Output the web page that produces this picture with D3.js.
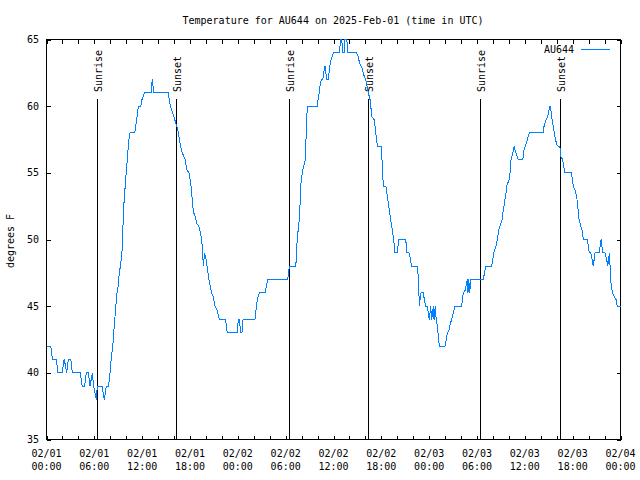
<!DOCTYPE html>
<html>
<head>
<meta charset="utf-8">
<script src="https://cdn.jsdelivr.net/npm/d3@7"></script>
<style>
  html, body { margin: 0; padding: 0; background: #fff; }
  svg { display: block; }
  text { font-family: "DejaVu Sans Mono", monospace; font-size: 10px; fill: #000; }
</style>
</head>
<body>
<svg id="chart" width="640" height="480"></svg>
<script>
// ---- data ----
const titleText = "Temperature for AU644 on 2025-Feb-01 (time in UTC)";
const seriesName = "AU644";
const yLabel = "degrees F";
const startTime = "2025-02-01T00:00:00Z";
const endTime = "2025-02-04T00:00:00Z";
const yTicks = [35, 40, 45, 50, 55, 60, 65];
// hours since 2025-02-01 00:00 UTC
const hours = [
  0, 0.53, 0.65, 0.73, 1.23, 1.32, 1.40, 1.98, 2.20, 2.32, 2.53, 2.73, 3.04, 3.16, 3.24,
  4.24, 4.39, 4.49, 4.79, 4.99, 5.24, 5.46, 5.75, 5.90, 6.08, 6.25, 6.37, 6.96, 7.25, 7.50,
  7.75, 7.88, 8.05, 8.13, 8.25, 8.34, 8.38, 8.50, 8.63, 8.76, 8.88, 9.01, 9.09, 9.26, 9.43,
  9.56, 9.63, 9.81, 9.93, 10.06, 10.14, 10.19, 10.26, 10.39, 10.47, 11.06, 11.31, 11.52, 11.82, 11.98,
  12.27, 13.11, 13.27, 13.45, 15.28, 15.40, 15.53, 15.83, 16.08, 16.24, 16.46, 16.75, 17.03, 17.41, 17.50,
  17.63, 17.88, 18.09, 18.21, 18.34, 18.47, 18.67, 18.84, 19.09, 19.26, 19.42, 19.54, 19.67, 19.84, 20.01,
  20.22, 20.35, 20.51, 20.72, 20.92, 21.14, 21.35, 21.48, 21.68, 22.39, 22.52, 22.68, 23.93, 24.06, 24.21,
  24.34, 24.52, 24.65, 26.15, 26.28, 26.44, 26.69, 27.41, 27.75, 30.26, 30.46, 31.26, 31.33, 31.46, 31.64,
  31.76, 31.89, 31.92, 32.09, 32.26, 32.46, 32.52, 32.64, 32.72, 33.97, 34.06, 34.22, 34.31, 34.47, 34.65,
  34.90, 35.00, 35.10, 35.35, 35.53, 35.69, 35.98, 36.73, 36.90, 37.03, 37.16, 37.32, 37.41, 37.66, 37.82,
  38.91, 39.11, 39.24, 39.61, 39.87, 40.04, 40.17, 40.33, 40.58, 40.67, 40.83, 41.08, 41.21, 41.30, 41.50,
  41.96, 42.08, 42.17, 42.25, 42.55, 42.67, 42.75, 42.88, 43.00, 43.13, 43.25, 43.38, 43.50, 43.63, 43.72,
  44.01, 44.18, 45.06, 45.22, 45.47, 45.69, 45.76, 46.51, 46.64, 46.73, 46.76, 46.89, 46.98, 47.27, 47.39,
  47.57, 47.73, 47.89, 48.02, 48.19, 48.32, 48.52, 48.61, 48.77, 48.86, 49.02, 49.20, 49.27, 49.99, 50.15,
  50.28, 50.49, 50.65, 50.83, 51.03, 51.24, 52.08, 52.28, 52.54, 52.62, 52.79, 52.87, 52.96, 53.09, 53.21,
  54.79, 55.09, 55.85, 56.10, 56.38, 56.55, 56.72, 56.89, 57.14, 57.30, 57.43, 57.64, 57.73, 58.02, 58.14,
  58.27, 58.48, 58.68, 58.77, 59.18, 59.74, 59.90, 60.06, 60.24, 60.36, 60.56, 62.32, 62.41, 62.66, 62.87,
  63.00, 63.16, 63.29, 63.41, 63.57, 63.79, 64.00, 64.20, 64.41, 64.50, 64.75, 64.95, 65.04, 65.83, 65.96,
  66.08, 66.30, 66.51, 66.63, 66.80, 67.01, 67.17, 67.34, 67.84, 67.96, 68.09, 68.27, 68.43, 68.59, 68.80,
  69.34, 69.56, 69.77, 70.06, 70.27, 70.40, 70.60, 70.81, 70.98, 71.23, 71.44, 71.60, 72.00
];
const tempF = [
  42, 42, 41.6, 41, 41, 40.6, 40, 40, 41, 40.7, 40, 41, 41, 40.5, 40,
  40, 39.3, 39, 39, 40, 40, 39, 40, 39, 38.5, 38, 39, 39, 38, 39,
  39, 39.4, 40.5, 41.2, 41.7, 42.2, 42.7, 43.5, 44.5, 45.5, 46.2, 46.5, 47.2, 48, 48.7,
  50, 52, 53.5, 54.5, 55.5, 56, 56.2, 57.2, 57.7, 58, 58, 59, 60, 60, 60.5,
  61, 61, 62, 61, 61, 60.5, 60, 59.5, 59, 58.7, 58.25, 57.2, 56.5, 56, 55.6,
  55.2, 55, 54.2, 53.5, 52.5, 52, 51.7, 51.2, 51, 50.6, 50.2, 49.5, 48, 49, 48.5,
  47.7, 47.1, 46.6, 46, 45.7, 45, 44.8, 44.5, 44, 44, 43.7, 43, 43, 44, 44,
  43, 43, 44, 44, 44.7, 45.5, 46, 46, 47, 47, 48, 48, 48.5, 50.2, 51,
  52.2, 53.5, 54.2, 55, 55.5, 56, 57, 59, 60, 60, 60.5, 61, 61.5, 62, 62,
  63, 63, 62, 62, 63, 63.5, 64, 64, 65, 65, 64, 64, 65, 65, 64,
  64, 63.7, 63.3, 62.8, 62.2, 62, 61.6, 61.1, 60.5, 60, 59.2, 59, 58.5, 58, 57,
  57, 56, 55, 54, 54, 53.7, 53.2, 52.7, 52.2, 51.7, 51.2, 50.7, 50.2, 49.5, 49,
  49, 50, 50, 49, 49, 48.5, 48, 48, 47.2, 45.7, 45, 45.7, 46, 46, 45.5,
  45, 45, 44.5, 44, 45, 44, 45, 44, 45, 44.2, 43.5, 42.5, 42, 42, 42.5,
  43, 43.2, 43.7, 44, 44.5, 45, 45, 46, 46.2, 46.5, 47, 46, 47, 46, 47,
  47, 48, 48, 49, 49.5, 50, 50.7, 51, 51.5, 52.2, 52.7, 53.5, 54, 54.5, 55,
  56, 56.5, 57, 56.7, 56, 56, 56.7, 57, 57.3, 57.6, 58, 58, 58.5, 59, 59.2,
  59.6, 60, 59.6, 59, 58.5, 57.7, 57.1, 57, 56.9, 56.2, 56, 55.2, 55, 55, 54.5,
  54, 53.7, 53.2, 52.5, 51.5, 51, 50.7, 50, 50, 49.5, 49, 49, 48.5, 48, 49,
  49, 50, 49, 49, 48.5, 48, 49, 46.75, 46, 45.7, 45.5, 45, 45
];
const sunEventHours = [6.37, 16.28, 30.46, 40.37, 54.41, 64.45];
const sunEventLabels = ["Sunrise", "Sunset", "Sunrise", "Sunset", "Sunrise", "Sunset"];

// ---- drawing ----
const svg = d3.select("#chart");
const L = 46.5, R = 620.5, T = 39.5, B = 439.5;
const t0 = new Date(startTime);
const toDate = h => new Date(t0.getTime() + h * 3600000);

const x = d3.scaleUtc().domain([new Date(startTime), new Date(endTime)]).range([L, R]);
const y = d3.scaleLinear().domain([35, 65]).range([B, T]);

const data = hours.map((h, i) => ({ t: toDate(h), v: tempF[i] }));

// x ticks every 2 hours, labels every 6 hours
const xTickVals = d3.utcHour.every(2).range(new Date(startTime), new Date(new Date(endTime).getTime() + 1));
const xLabelVals = d3.utcHour.every(6).range(new Date(startTime), new Date(new Date(endTime).getTime() + 1));

const axB = svg.append("g").attr("transform", `translate(0,${B})`)
  .call(d3.axisBottom(x).tickValues(xTickVals).tickSize(-4).tickFormat(""));
const axT = svg.append("g").attr("transform", `translate(0,${T})`)
  .call(d3.axisTop(x).tickValues(xTickVals).tickSize(-4).tickFormat(""));
const axL = svg.append("g").attr("transform", `translate(${L},0)`)
  .call(d3.axisLeft(y).tickValues(yTicks).tickSize(-4).tickFormat(""));
const axR = svg.append("g").attr("transform", `translate(${R},0)`)
  .call(d3.axisRight(y).tickValues(yTicks).tickSize(-4).tickFormat(""));
[axB, axT, axL, axR].forEach(g => {
  g.select(".domain").remove();
  g.selectAll("line").attr("stroke", "#000").attr("shape-rendering", "crispEdges");
});

// y tick labels
svg.append("g").selectAll("text").data(yTicks).join("text")
  .attr("x", 39).attr("y", d => y(d) + 3.5)
  .attr("text-anchor", "end").text(d => d);

// x tick labels (two lines)
const fmtDay = d3.utcFormat("%m/%d"), fmtTime = d3.utcFormat("%H:%M");
const xl = svg.append("g").selectAll("text").data(xLabelVals).join("text")
  .attr("text-anchor", "middle");
xl.append("tspan").attr("x", d => x(d)).attr("y", 457).text(d => fmtDay(d));
xl.append("tspan").attr("x", d => x(d)).attr("y", 470).text(d => fmtTime(d));

// frame
svg.append("rect").attr("x", L).attr("y", T).attr("width", R - L).attr("height", B - T)
  .attr("fill", "none").attr("stroke", "#000").attr("stroke-width", 1)
  .attr("shape-rendering", "crispEdges");

// sunrise/sunset markers
const se = svg.append("g");
sunEventHours.forEach((h, i) => {
  const xp = Math.round(x(toDate(h))) + 0.5;
  se.append("line").attr("x1", xp).attr("x2", xp).attr("y1", 99).attr("y2", B)
    .attr("stroke", "#000").attr("stroke-width", 1).attr("shape-rendering", "crispEdges");
  se.append("text").attr("transform", `translate(${xp + 4.5},92) rotate(-90)`)
    .attr("text-anchor", "start").text(sunEventLabels[i]);
});

// line
const line = d3.line().x(d => x(d.t)).y(d => y(d.v));
svg.append("path").datum(data).attr("d", line)
  .attr("fill", "none").attr("stroke", "#0080ff").attr("stroke-width", 1)
  .attr("shape-rendering", "crispEdges");

// title
svg.append("text").attr("x", 333).attr("y", 23.5).attr("text-anchor", "middle").text(titleText);

// y label
svg.append("text").attr("transform", "translate(13.5,241) rotate(-90)")
  .attr("text-anchor", "middle").text(yLabel);

// legend
svg.append("text").attr("x", 574).attr("y", 53).attr("text-anchor", "end").text(seriesName);
svg.append("line").attr("x1", 581).attr("x2", 610).attr("y1", 49.5).attr("y2", 49.5)
  .attr("stroke", "#0080ff").attr("stroke-width", 1).attr("shape-rendering", "crispEdges");
</script>
</body>
</html>
